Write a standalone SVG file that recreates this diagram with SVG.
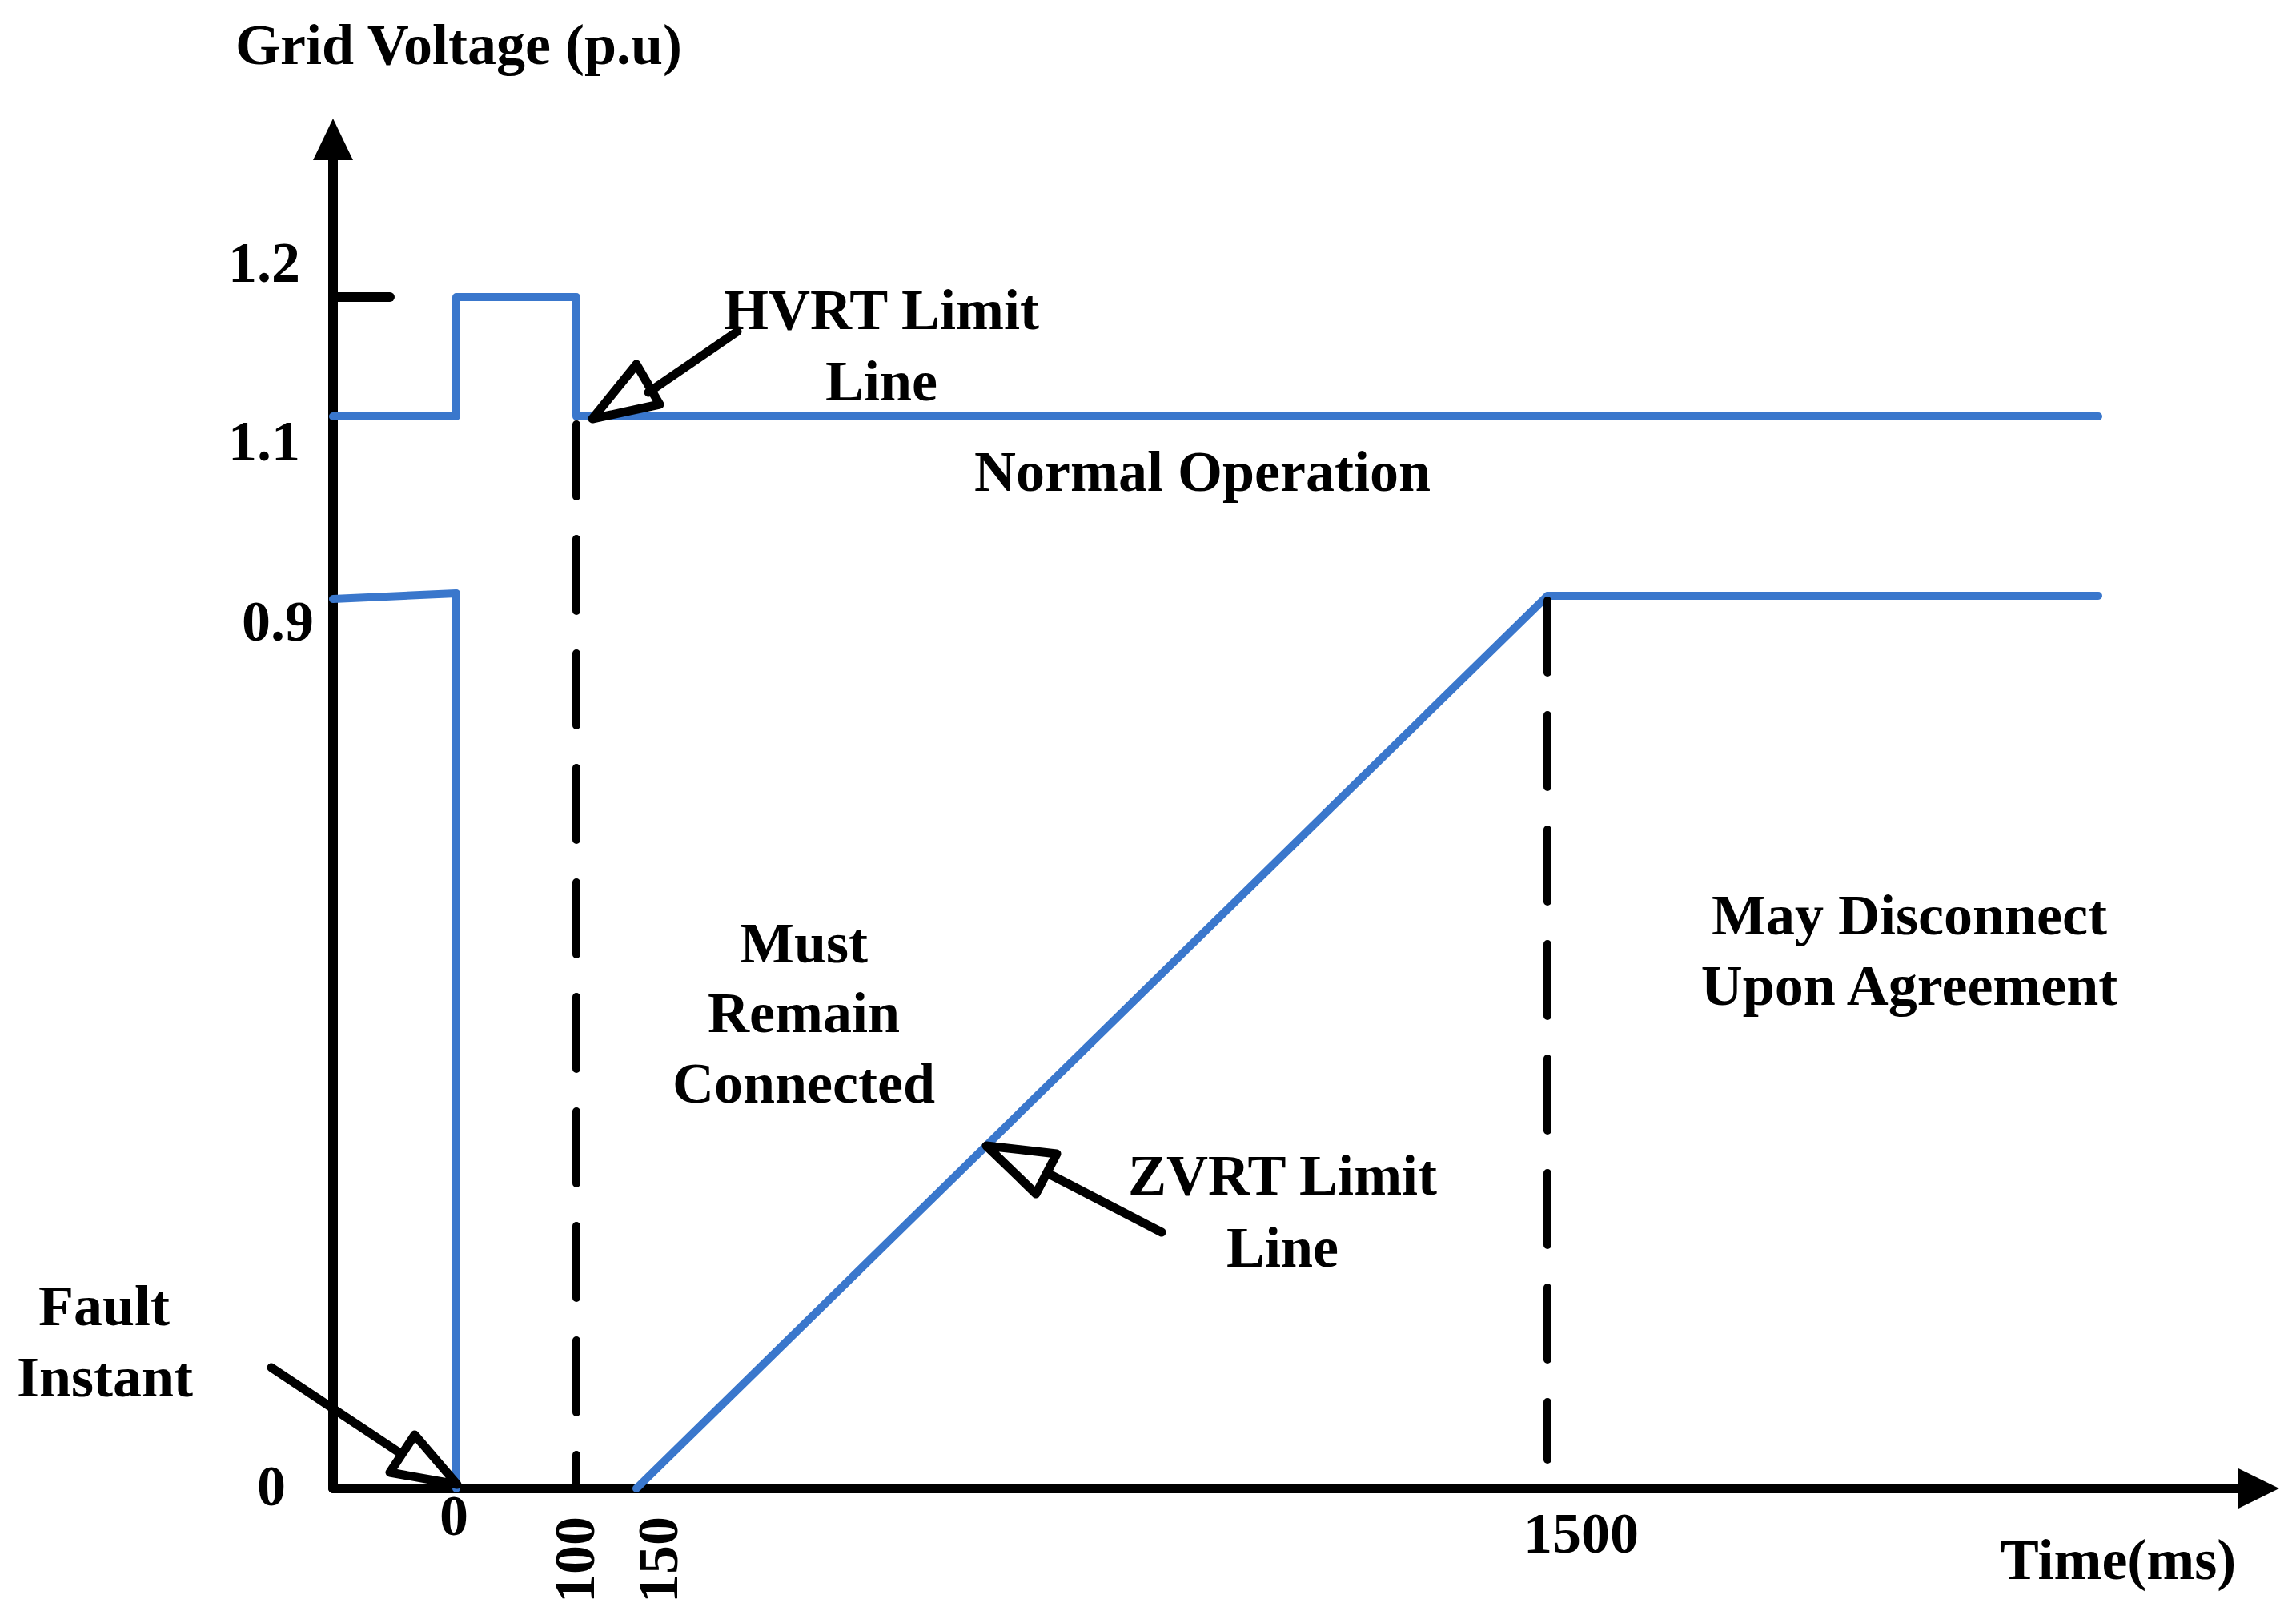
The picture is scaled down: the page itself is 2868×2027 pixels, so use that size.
<svg xmlns="http://www.w3.org/2000/svg" width="2868" height="2027" viewBox="0 0 2868 2027">
<style>
text{font-family:"Liberation Serif","Times New Roman",serif;font-weight:bold;font-size:72px;fill:#000}
.c{text-anchor:middle}
.blue{fill:none;stroke:#3a77cc;stroke-width:10;stroke-linecap:round;stroke-linejoin:round}
.ax{fill:none;stroke:#000;stroke-width:12;stroke-linecap:round}
.dash{fill:none;stroke:#000;stroke-width:10;stroke-linecap:round;stroke-dasharray:90 53}
.arr{fill:none;stroke:#000;stroke-width:11;stroke-linecap:round;stroke-linejoin:round}
</style>
<rect width="2868" height="2027" fill="#fff"/>
<g id="axes">
<line class="ax" x1="416" y1="190" x2="416" y2="1859"/>
<polygon points="416,148 391,200 441,200" fill="#000"/>
<line class="ax" x1="416" y1="1859" x2="2800" y2="1859"/>
<polygon points="2847,1859 2796,1834 2796,1884" fill="#000"/>
<line class="ax" x1="416" y1="371" x2="487" y2="371"/>
</g>
<g id="limits">
<polyline class="blue" points="416,520 570,520 570,371 720,371 720,520 2621,520"/>
<polyline class="blue" points="416,748 570,741 570,1859"/>
<polyline class="blue" points="795,1859 1933,744 2621,744"/>
</g>
<g id="connectors">
<line class="dash" x1="720" y1="530" x2="720" y2="1853"/>
<line class="dash" x1="1933" y1="750" x2="1933" y2="1823"/>
<line class="arr" x1="921" y1="414" x2="810" y2="490"/>
<polygon class="arr" points="740,523 795,455 824,505"/>
<line class="arr" x1="339" y1="1708" x2="500" y2="1815"/>
<polygon class="arr" points="571,1854 518,1792 487,1839"/>
<line class="arr" x1="1451" y1="1539" x2="1310" y2="1466"/>
<polygon class="arr" points="1232,1431 1320,1441 1294,1491"/>
</g>
<g id="labels">
<text x="573" y="80" class="c">Grid Voltage (p.u)</text>
<text x="330" y="352" class="c">1.2</text>
<text x="330" y="575" class="c">1.1</text>
<text x="347" y="800" class="c">0.9</text>
<text x="339" y="1880" class="c">0</text>
<text x="567" y="1917" class="c">0</text>
<text transform="translate(742,1948) rotate(-90)" class="c">100</text>
<text transform="translate(846,1948) rotate(-90)" class="c">150</text>
<text x="1975" y="1939" class="c">1500</text>
<text x="2646" y="1972" class="c">Time(ms)</text>
<text x="130" y="1655" class="c">Fault</text>
<text x="131" y="1744" class="c">Instant</text>
<text x="1101" y="411" class="c">HVRT Limit</text>
<text x="1101" y="500" class="c">Line</text>
<text x="1502" y="613" class="c">Normal Operation</text>
<text x="1004" y="1202" class="c">Must</text>
<text x="1004" y="1289" class="c">Remain</text>
<text x="1004" y="1377" class="c">Connected</text>
<text x="1602" y="1492" class="c">ZVRT Limit</text>
<text x="1602" y="1582" class="c">Line</text>
<text x="2385" y="1167" class="c">May Disconnect</text>
<text x="2385" y="1255" class="c">Upon Agreement</text>
</g>
</svg>
